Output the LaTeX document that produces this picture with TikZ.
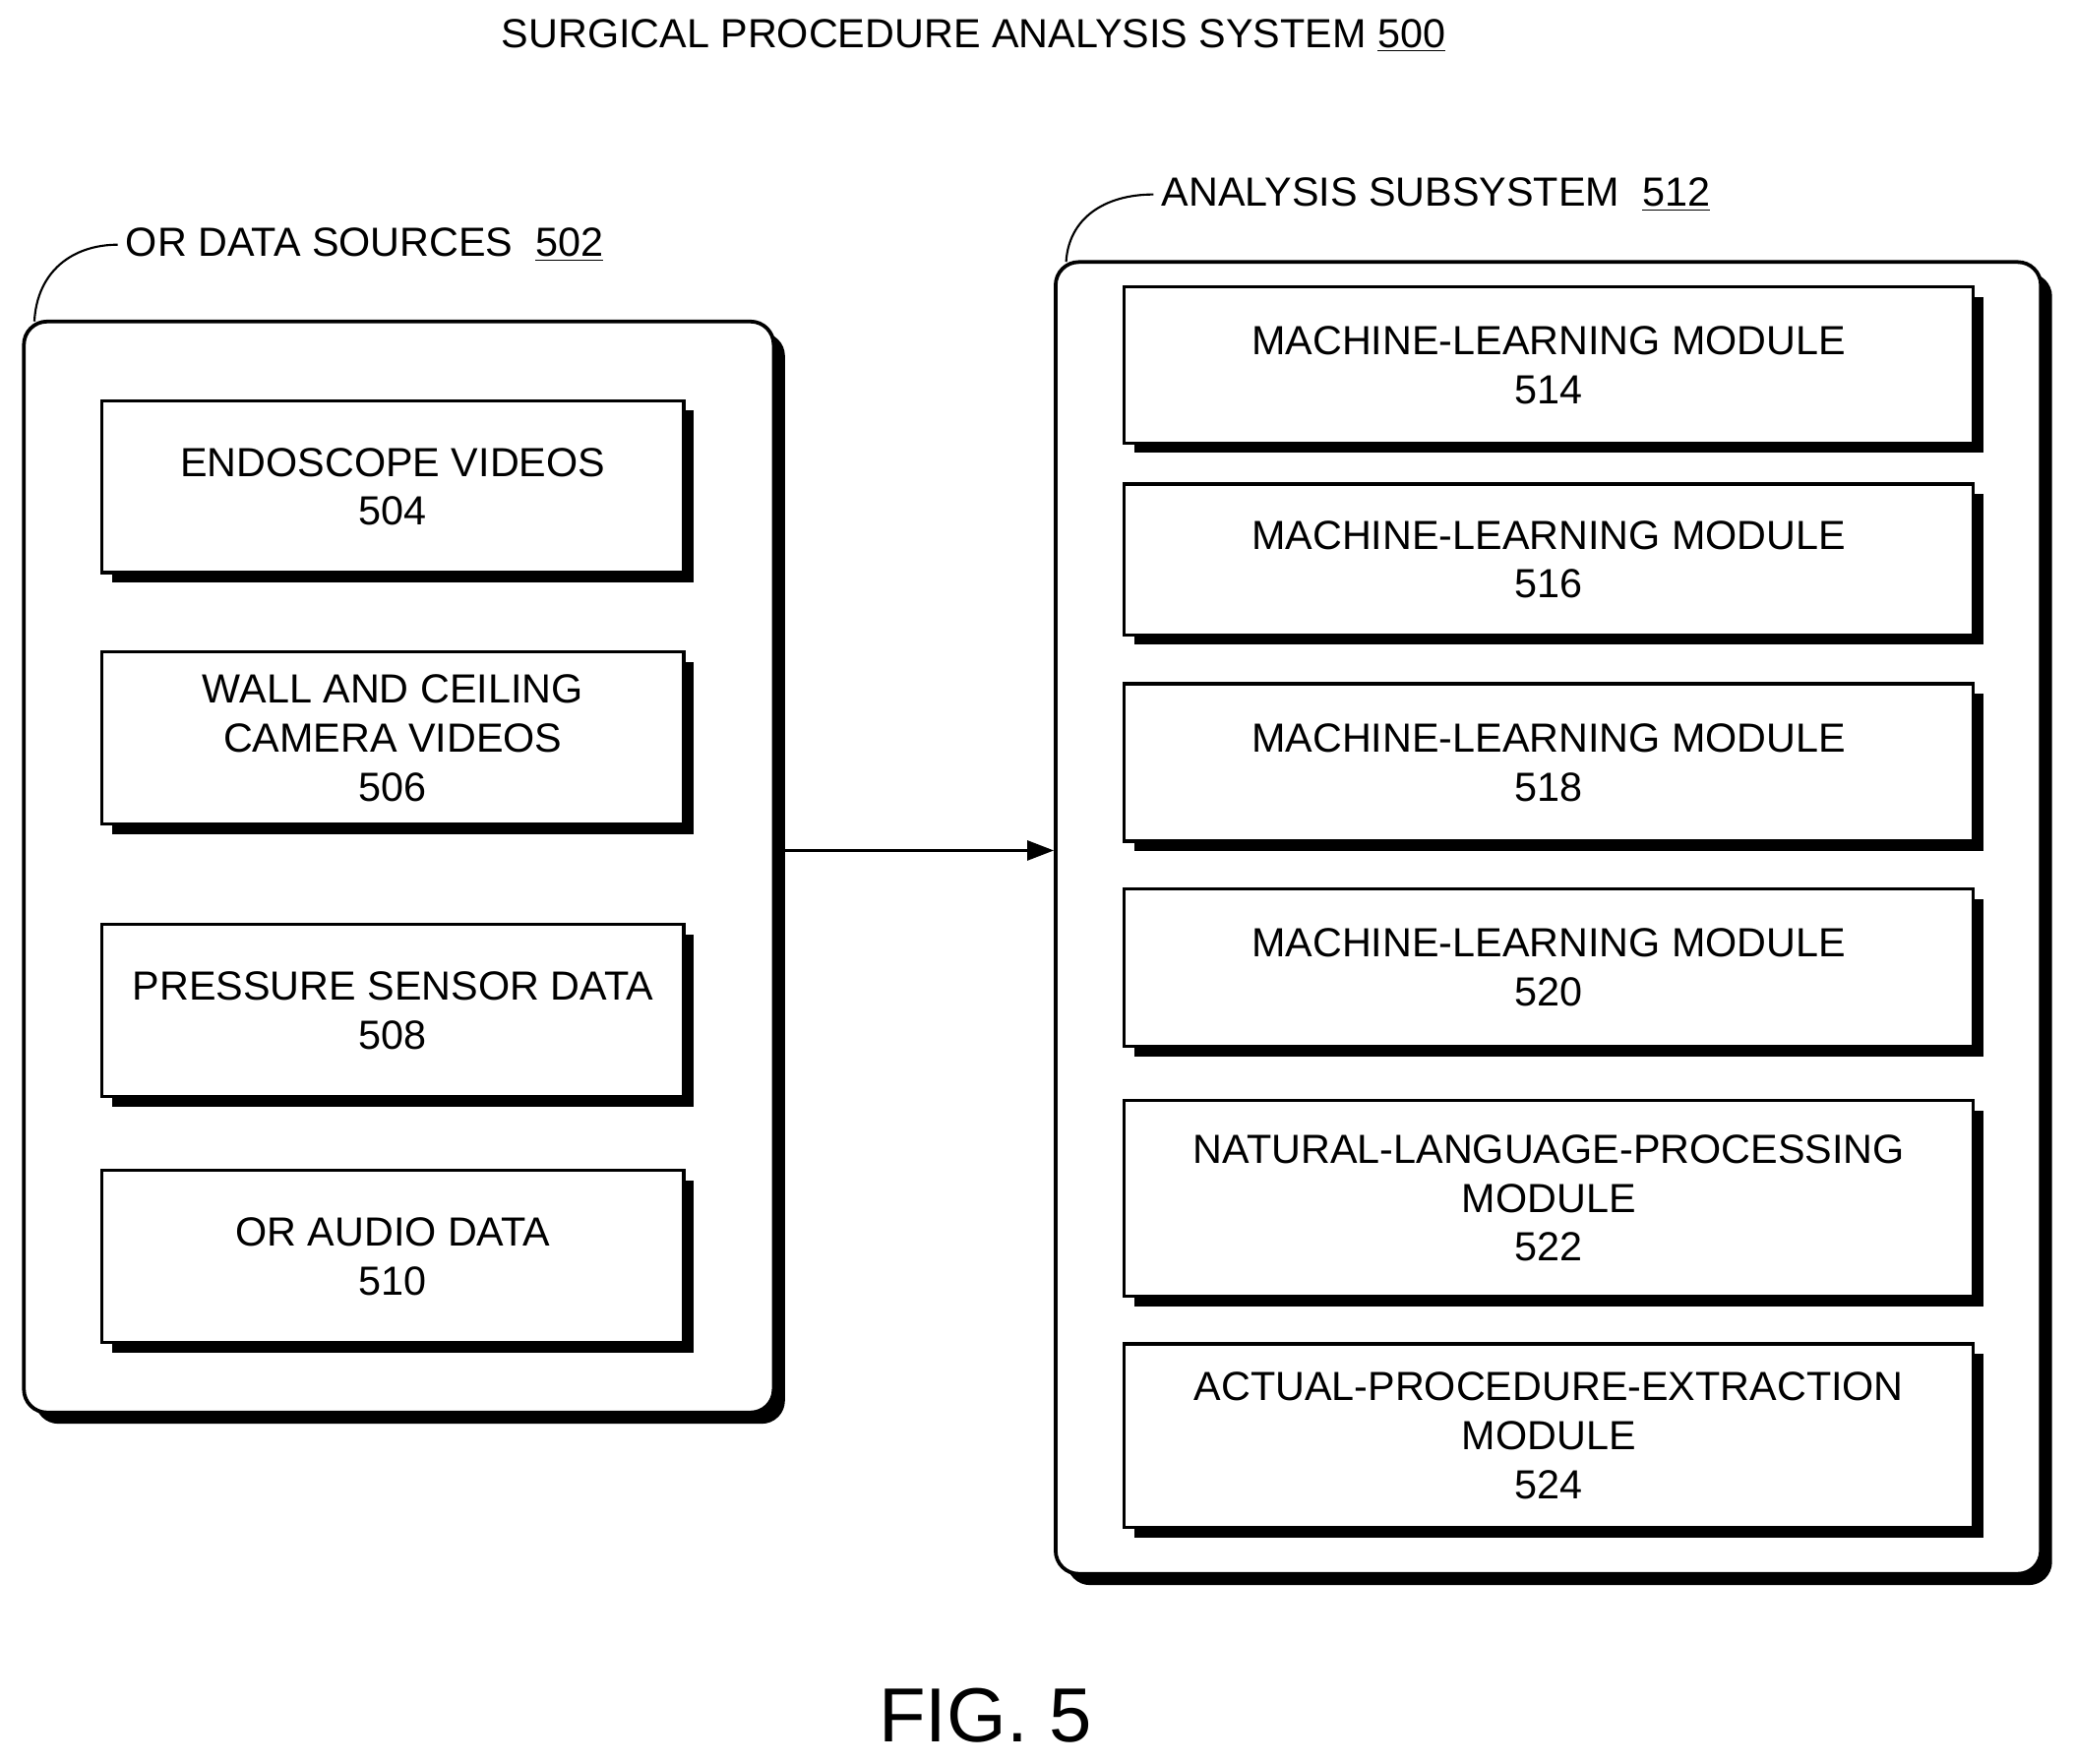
\documentclass[tikz,border=0pt]{standalone}
\usepackage{fontspec}
\setmainfont{Liberation Sans}
\usetikzlibrary{shadows,arrows.meta,positioning}
\begin{document}
\begin{tikzpicture}[
    x=0.02cm, y=-0.02cm,
    every node/.style={font=\fontsize{17.5}{21}\selectfont, align=center},
    module/.style={draw, line width=1.4pt, fill=white, inner sep=0pt,
        drop shadow={shadow xshift=0.15cm, shadow yshift=-0.15cm, opacity=1, fill=black}},
    group/.style={draw, line width=1.6pt, fill=white, rounded corners=0.35cm, inner sep=0pt,
        drop shadow={shadow xshift=0.17cm, shadow yshift=-0.17cm, opacity=1, fill=black}},
    line style/.style={line width=0.9pt}
]
    \useasboundingbox (0,0) rectangle (1568,1333);

    % Title
    \node (title) at (736,27) {SURGICAL PROCEDURE ANALYSIS SYSTEM \underline{500}};

    % Containers
    \node[group, minimum width=11.34cm, minimum height=16.5cm] (sources) at (301.5,655.5) {};
    \node[group, minimum width=14.9cm, minimum height=19.84cm] (analysis) at (1170.5,694) {};

    \node[anchor=west] (sourcesLabel) at (89,185) {OR DATA SOURCES \ \underline{502}};
    \node[anchor=west] (analysisLabel) at (872,147) {ANALYSIS SUBSYSTEM \ \underline{512}};
    \coordinate (sourcesCorner) at (26,243);
    \coordinate (analysisCorner) at (806,198);
    \draw[line style] (sourcesCorner) .. controls (28,205) and (55,185) .. (sourcesLabel.west);
    \draw[line style] (analysisCorner) .. controls (808,165) and (835,147) .. (analysisLabel.west);

    % Data sources
    \foreach \name/\y/\h/\txt in {src504/368/130/{ENDOSCOPE VIDEOS\\504},
        src506/558/130/{WALL AND CEILING\\CAMERA VIDEOS\\506},
        src508/764/130/{PRESSURE SENSOR DATA\\508},
        src510/950/130/{OR AUDIO DATA\\510}} {
        \node[module, minimum width=8.8cm, minimum height=\h*0.02cm] (\name) at (297,\y) {\txt};
    }

    % Analysis modules
    \foreach \name/\y/\h/\txt in {mod514/276/118/{MACHINE-LEARNING MODULE\\514},
        mod516/423/114/{MACHINE-LEARNING MODULE\\516},
        mod518/576.5/119/{MACHINE-LEARNING MODULE\\518},
        mod520/731.5/119/{MACHINE-LEARNING MODULE\\520},
        mod522/906/148/{NATURAL-LANGUAGE-PROCESSING\\MODULE\\522},
        mod524/1085.5/139/{ACTUAL-PROCEDURE-EXTRACTION\\MODULE\\524}} {
        \node[module, minimum width=12.84cm, minimum height=\h*0.02cm] (\name) at (1171,\y) {\txt};
    }

    % Connector
    \draw[line style, -{Triangle[length=0.4cm, width=0.3cm]}] (sources.east |- 0,643) -- (analysis.west |- 0,643);

    \node[font=\fontsize{33}{38}\selectfont] (fig) at (745,1297) {FIG. 5};
\end{tikzpicture}
\end{document}
